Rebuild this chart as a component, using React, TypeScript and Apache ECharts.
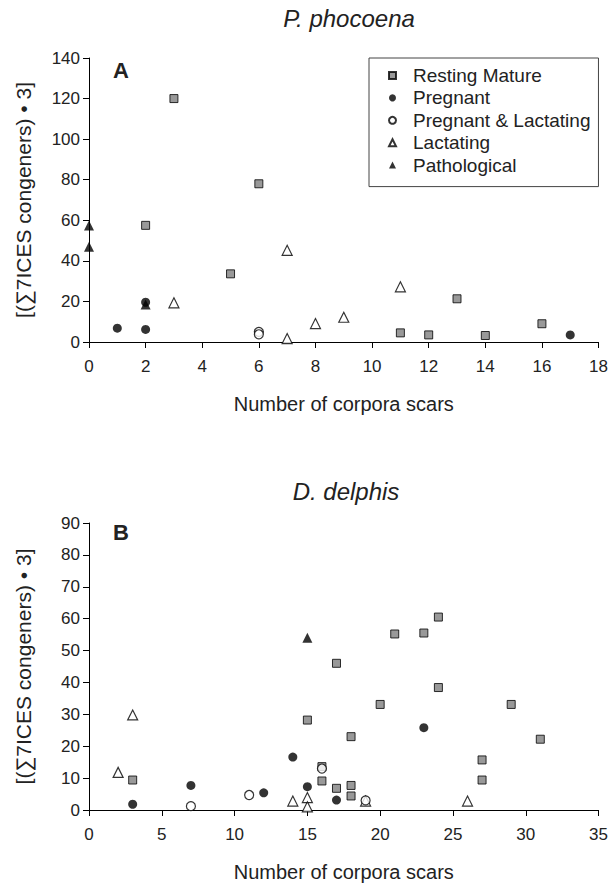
import React, { useEffect, useRef } from "react";
import * as echarts from "echarts";

const FONT = "Liberation Sans, Arial, Helvetica, sans-serif";

const SERIES_NAMES = ["Resting Mature", "Pregnant", "Pregnant & Lactating", "Lactating", "Pathological"];

// Panel A: P. phocoena  [corpora scars, value]
const phRestingMature = [[2, 57.5], [3, 120], [5, 33.6], [6, 78], [11, 4.5], [12, 3.5], [13, 21.3], [14, 3.2], [16, 9]];
const phPregnant = [[1, 6.8], [2, 6.2], [2, 19.6], [17, 3.5]];
const phPregLact = [[6, 5], [6, 3.8]];
const phLactating = [[3, 19.3], [7, 45.2], [7, 1.7], [8, 9.1], [9, 12.2], [11, 27.2]];
const phPathological = [[0, 57.4], [0, 46.9], [2, 18.5]];

// Panel B: D. delphis
const ddRestingMature = [[3, 9.4], [15, 28.2], [16, 13.6], [16, 9.1], [17, 46], [17, 6.8], [18, 23], [18, 7.7], [18, 4.4], [20, 33.1], [21, 55.2], [23, 55.5], [24, 60.5], [24, 38.4], [27, 15.7], [27, 9.4], [29, 33.1], [31, 22.2]];
const ddPregnant = [[3, 1.8], [7, 7.7], [12, 5.4], [14, 16.6], [15, 7.3], [17, 3.1], [23, 25.8]];
const ddPregLact = [[7, 1.2], [11, 4.7], [16, 13], [19, 3]];
const ddLactating = [[2, 11.8], [3, 29.8], [14, 2.8], [15, 3.9], [15, 1], [19, 2.8], [26, 2.8]];
const ddPathological = [[15, 54]];

const phXRange = [0, 18, 2];
const phYRange = [0, 140, 20];
const ddXRange = [0, 35, 5];
const ddYRange = [0, 90, 10];

const TITLE_A = "P. phocoena";
const TITLE_B = "D. delphis";
const X_NAME = "Number of corpora scars";
const Y_NAME = "[(∑7ICES congeners) • 3]";

const STYLES: Record<string, any> = {
  "Resting Mature": { symbol: "rect", symbolSize: 8, itemStyle: { color: "#808080", borderColor: "#000", borderWidth: 1 } },
  "Pregnant": { symbol: "circle", symbolSize: 9, itemStyle: { color: "#000", borderColor: "#000", borderWidth: 0 } },
  "Pregnant & Lactating": { symbol: "circle", symbolSize: 9, itemStyle: { color: "#fff", borderColor: "#000", borderWidth: 1.2 } },
  "Lactating": { symbol: "triangle", symbolSize: 10, itemStyle: { color: "#fff", borderColor: "#000", borderWidth: 1.2 } },
  "Pathological": { symbol: "triangle", symbolSize: 10, itemStyle: { color: "#000", borderColor: "#000", borderWidth: 0 } },
};

function makeXAxis(gridIndex: number, r: number[]) {
  return {
    type: "value", gridIndex, min: r[0], max: r[1], interval: r[2],
    name: X_NAME, nameLocation: "middle", nameGap: 52,
    nameTextStyle: { fontFamily: FONT, fontSize: 20, color: "#222" },
    axisLine: { show: true, onZero: false, lineStyle: { color: "#000", width: 1 } },
    axisTick: { show: true, inside: false, length: 6, lineStyle: { color: "#000" } },
    axisLabel: { margin: 16, fontFamily: FONT, fontSize: 17, color: "#222" },
    splitLine: { show: false },
  };
}
function makeYAxis(gridIndex: number, r: number[]) {
  return {
    type: "value", gridIndex, min: r[0], max: r[1], interval: r[2],
    name: Y_NAME, nameLocation: "middle", nameRotate: 90, nameGap: 55,
    nameTextStyle: { fontFamily: FONT, fontSize: 21, color: "#222" },
    axisLine: { show: true, onZero: false, lineStyle: { color: "#000", width: 1 } },
    axisTick: { show: true, inside: false, length: 6, lineStyle: { color: "#000" } },
    axisLabel: { margin: 9, fontFamily: FONT, fontSize: 17, color: "#222" },
    splitLine: { show: false },
  };
}

function mk(name: string, idx: number, data: number[][]) {
  return { type: "scatter", name, xAxisIndex: idx, yAxisIndex: idx, data, ...STYLES[name] };
}

export default function App() {
  const ref = useRef<HTMLDivElement>(null);
  useEffect(() => {
    document.body.style.margin = "0";
    if (!ref.current) return;
    const chart = echarts.init(ref.current, undefined, { renderer: "svg" });
    const option = {
      animation: false,
      backgroundColor: "#fff",
      grid: [
        { left: 89, right: 7, top: 58, height: 284 },
        { left: 89, right: 8, top: 523, height: 287 },
      ],
      xAxis: [makeXAxis(0, phXRange), makeXAxis(1, ddXRange)],
      yAxis: [makeYAxis(0, phYRange), makeYAxis(1, ddYRange)],
      legend: {
        data: SERIES_NAMES,
        orient: "vertical",
        left: 369, top: 58,
        padding: [8, 8, 12, 19],
        itemWidth: 7, itemHeight: 7, itemGap: 3.4,
        borderColor: "#444", borderWidth: 1,
        textStyle: { fontFamily: FONT, fontSize: 19, color: "#222", lineHeight: 18, padding: [0, 0, 0, 12] },
        selectedMode: false,
      },
      graphic: [
        { type: "text", x: 349, y: 18, style: { text: TITLE_A, fontFamily: FONT, fontSize: 24, fontStyle: "italic", fill: "#222", align: "center", verticalAlign: "middle" } },
        { type: "text", x: 346, y: 491, style: { text: TITLE_B, fontFamily: FONT, fontSize: 24, fontStyle: "italic", fill: "#222", align: "center", verticalAlign: "middle" } },
        { type: "text", x: 121, y: 70, style: { text: "A", fontFamily: FONT, fontSize: 22, fontWeight: "bold", fill: "#222", align: "center", verticalAlign: "middle" } },
        { type: "text", x: 121, y: 532, style: { text: "B", fontFamily: FONT, fontSize: 22, fontWeight: "bold", fill: "#222", align: "center", verticalAlign: "middle" } },
      ],
      series: [
        mk("Resting Mature", 0, phRestingMature),
        mk("Lactating", 0, phLactating),
        mk("Pregnant & Lactating", 0, phPregLact),
        mk("Pathological", 0, phPathological),
        mk("Pregnant", 0, phPregnant),
        mk("Resting Mature", 1, ddRestingMature),
        mk("Lactating", 1, ddLactating),
        mk("Pregnant & Lactating", 1, ddPregLact),
        mk("Pathological", 1, ddPathological),
        mk("Pregnant", 1, ddPregnant),
      ],
    };
    chart.setOption(option as any);
    return () => chart.dispose();
  }, []);
  return <div ref={ref} style={{ width: 611, height: 884 }} />;
}
